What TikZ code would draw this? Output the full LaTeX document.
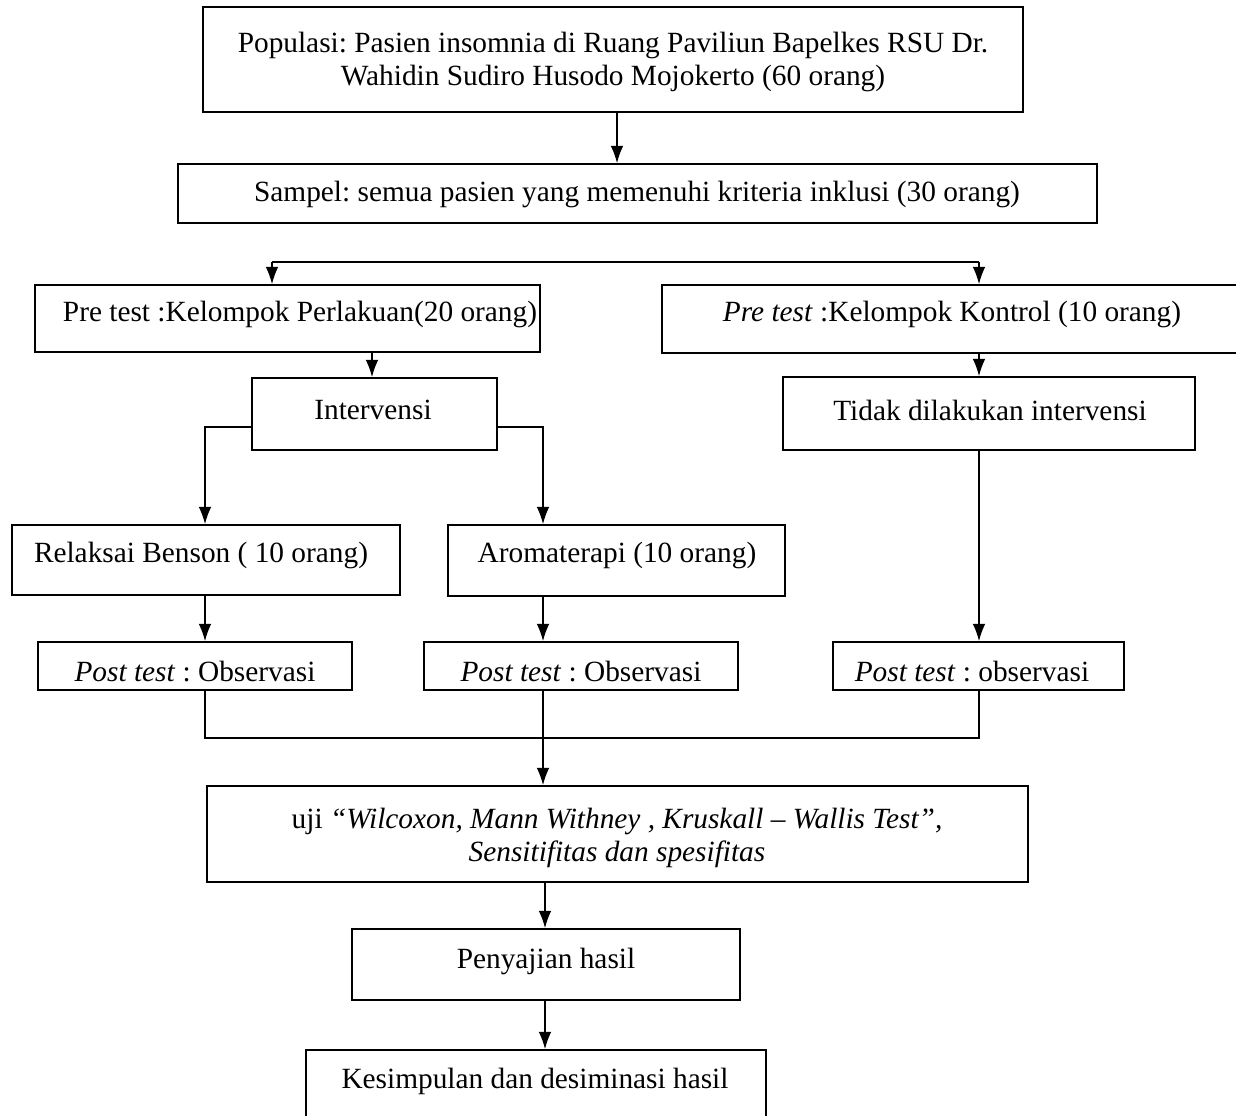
\documentclass[tikz,border=0pt]{standalone}
\usepackage{fontspec}
\setmainfont{Liberation Serif}
\frenchspacing
\usetikzlibrary{arrows.meta,fit}
\begin{document}
\begin{tikzpicture}[x=0.75pt,y=-0.75pt,
  box/.style={draw, line width=1.2pt, inner sep=0pt},
  txt/.style={font=\fontsize{22}{24.75}\selectfont, inner sep=0pt, align=center},
  arr/.style={line width=1.2pt,-{Latex[length=13pt,width=9.5pt]}},
  ln/.style={line width=1.2pt}]
\useasboundingbox (0,0) rectangle (1236,1115);
\clip (0,0) rectangle (1236,1115);
% boxes
\node[box, fit={(203,7) (1023,112)}] (pop) {};
\node[box, fit={(178,164) (1097,223)}] (samp) {};
\node[box, fit={(35,285) (540,352)}] (preP) {};
\node[box, fit={(662,285) (1250,353)}] (preK) {};
\node[box, fit={(252,378) (497,450)}] (interv) {};
\node[box, fit={(783,377) (1195,450)}] (tidak) {};
\node[box, fit={(12,525) (400,595)}] (relaks) {};
\node[box, fit={(448,525) (785,596)}] (aroma) {};
\node[box, fit={(38,642) (352,690)}] (postA) {};
\node[box, fit={(424,642) (738,690)}] (postB) {};
\node[box, fit={(833,642) (1124,690)}] (postC) {};
\node[box, fit={(207,786) (1028,882)}] (uji) {};
\node[box, fit={(352,929) (740,1000)}] (peny) {};
\node[box, fit={(306,1050) (766,1130)}] (kes) {};
% texts
\node[txt] (tpop) at (613,62) {Populasi: Pasien insomnia di Ruang Paviliun Bapelkes RSU Dr.\\ Wahidin Sudiro Husodo Mojokerto (60 orang)};
\node[txt] (tsamp) at (637,194) {Sampel: semua pasien yang memenuhi kriteria inklusi (30 orang)};
\node[txt] (tpreP) at (300,314) {Pre test :Kelompok Perlakuan(20 orang)};
\node[txt] (tpreK) at (952,314) {\textit{Pre test} :Kelompok Kontrol (10 orang)};
\node[txt] (tinterv) at (373,410) {Intervensi};
\node[txt] (ttidak) at (990,410) {Tidak dilakukan intervensi};
\node[txt] (trelaks) at (201,555) {Relaksai Benson ( 10 orang)};
\node[txt] (taroma) at (617,555) {Aromaterapi (10 orang)};
\node[txt] (tpostA) at (195,672) {\textit{Post test} : Observasi};
\node[txt] (tpostB) at (581,672) {\textit{Post test} : Observasi};
\node[txt] (tpostC) at (972,672) {\textit{Post test} : observasi};
\node[txt] (tuji) at (617,838) {uji \textit{``Wilcoxon, Mann Withney , Kruskall -- Wallis Test'',}\\ \textit{Sensitifitas dan spesifitas}};
\node[txt] (tpeny) at (546,961) {Penyajian hasil};
\node[txt] (tkes) at (535,1081) {Kesimpulan dan desiminasi hasil};
% column coordinates
\coordinate (c617) at (617,0);
\coordinate (c372) at (372,0);
\coordinate (c979) at (979,0);
\coordinate (c205) at (205,0);
\coordinate (c543) at (543,0);
\coordinate (c545) at (545,0);
\coordinate (iy) at (0,427);
\coordinate (bL) at (272,262);
\coordinate (bR) at (979,262);
\coordinate (mL) at (205,738);
\coordinate (mR) at (979,738);
% connectors
\draw[arr] (pop.south -| c617) -- (samp.north -| c617);
\draw[ln] (bL) -- (bR);
\draw[arr] (bL) -- (preP.north -| bL);
\draw[arr] (bR) -- (preK.north -| bR);
\draw[arr] (preP.south -| c372) -- (interv.north -| c372);
\draw[arr] (preK.south -| c979) -- (tidak.north -| c979);
\draw[arr] (interv.west |- iy) -| (relaks.north -| c205);
\draw[arr] (interv.east |- iy) -| (aroma.north -| c543);
\draw[arr] (relaks.south -| c205) -- (postA.north -| c205);
\draw[arr] (aroma.south -| c543) -- (postB.north -| c543);
\draw[arr] (tidak.south -| c979) -- (postC.north -| c979);
\draw[ln] (postA.south -| c205) -- (mL) -- (mR) -- (postC.south -| c979);
\draw[arr] (postB.south -| c543) -- (uji.north -| c543);
\draw[arr] (uji.south -| c545) -- (peny.north -| c545);
\draw[arr] (peny.south -| c545) -- (kes.north -| c545);
\end{tikzpicture}
\end{document}
